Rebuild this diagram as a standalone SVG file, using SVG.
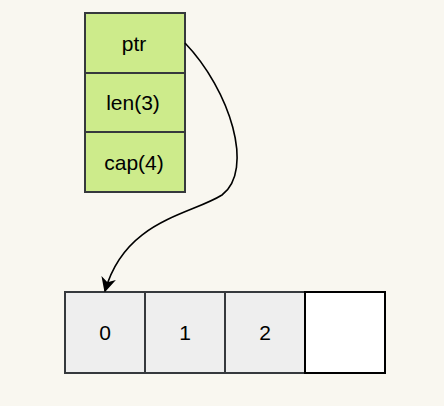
<svg xmlns="http://www.w3.org/2000/svg" width="444" height="406" viewBox="0 0 444 406">
<defs>
<style>
.f{fill:#cdeb8b;stroke:#36393d;stroke-width:2}
.a{fill:#eeeeee;stroke:#36393d;stroke-width:2}
.e{fill:#ffffff;stroke:#000000;stroke-width:2}
text{font-family:"Liberation Sans",Arial,sans-serif;font-size:21px;fill:#000;text-anchor:middle;dominant-baseline:central}
.c{fill:none;stroke:#000;stroke-width:1.6}
</style>
<marker id="arr" viewBox="0 0 10 10" refX="9" refY="5" markerWidth="15" markerHeight="15" markerUnits="userSpaceOnUse" orient="auto">
<path d="M0,0 L10,5 L0,10 L3,5 Z" fill="#000"/>
</marker>
</defs>
<rect width="444" height="406" fill="#f9f7f0"/>
<g id="ptr"><rect class="f" x="85" y="13" width="100" height="60"/><text x="134" y="43">ptr</text></g>
<g id="len"><rect class="f" x="85" y="73" width="100" height="59"/><text x="133" y="102.5">len(3)</text></g>
<g id="cap"><rect class="f" x="85" y="132" width="100" height="60"/><text x="134" y="162">cap(4)</text></g>
<g id="cell0"><rect class="a" x="65" y="292" width="80" height="81"/><text x="105" y="332.5">0</text></g>
<g id="cell1"><rect class="a" x="145" y="292" width="80" height="81"/><text x="185" y="332.5">1</text></g>
<g id="cell2"><rect class="a" x="225" y="292" width="80" height="81"/><text x="265" y="332.5">2</text></g>
<g id="cell3"><rect class="e" x="305" y="292" width="80" height="81"/></g>
<g id="connectors">
<path class="c" d="M185,43 C230,90 255,170 222,195 C190,215 125,220 105,291" marker-end="url(#arr)"/>
</g>
</svg>
